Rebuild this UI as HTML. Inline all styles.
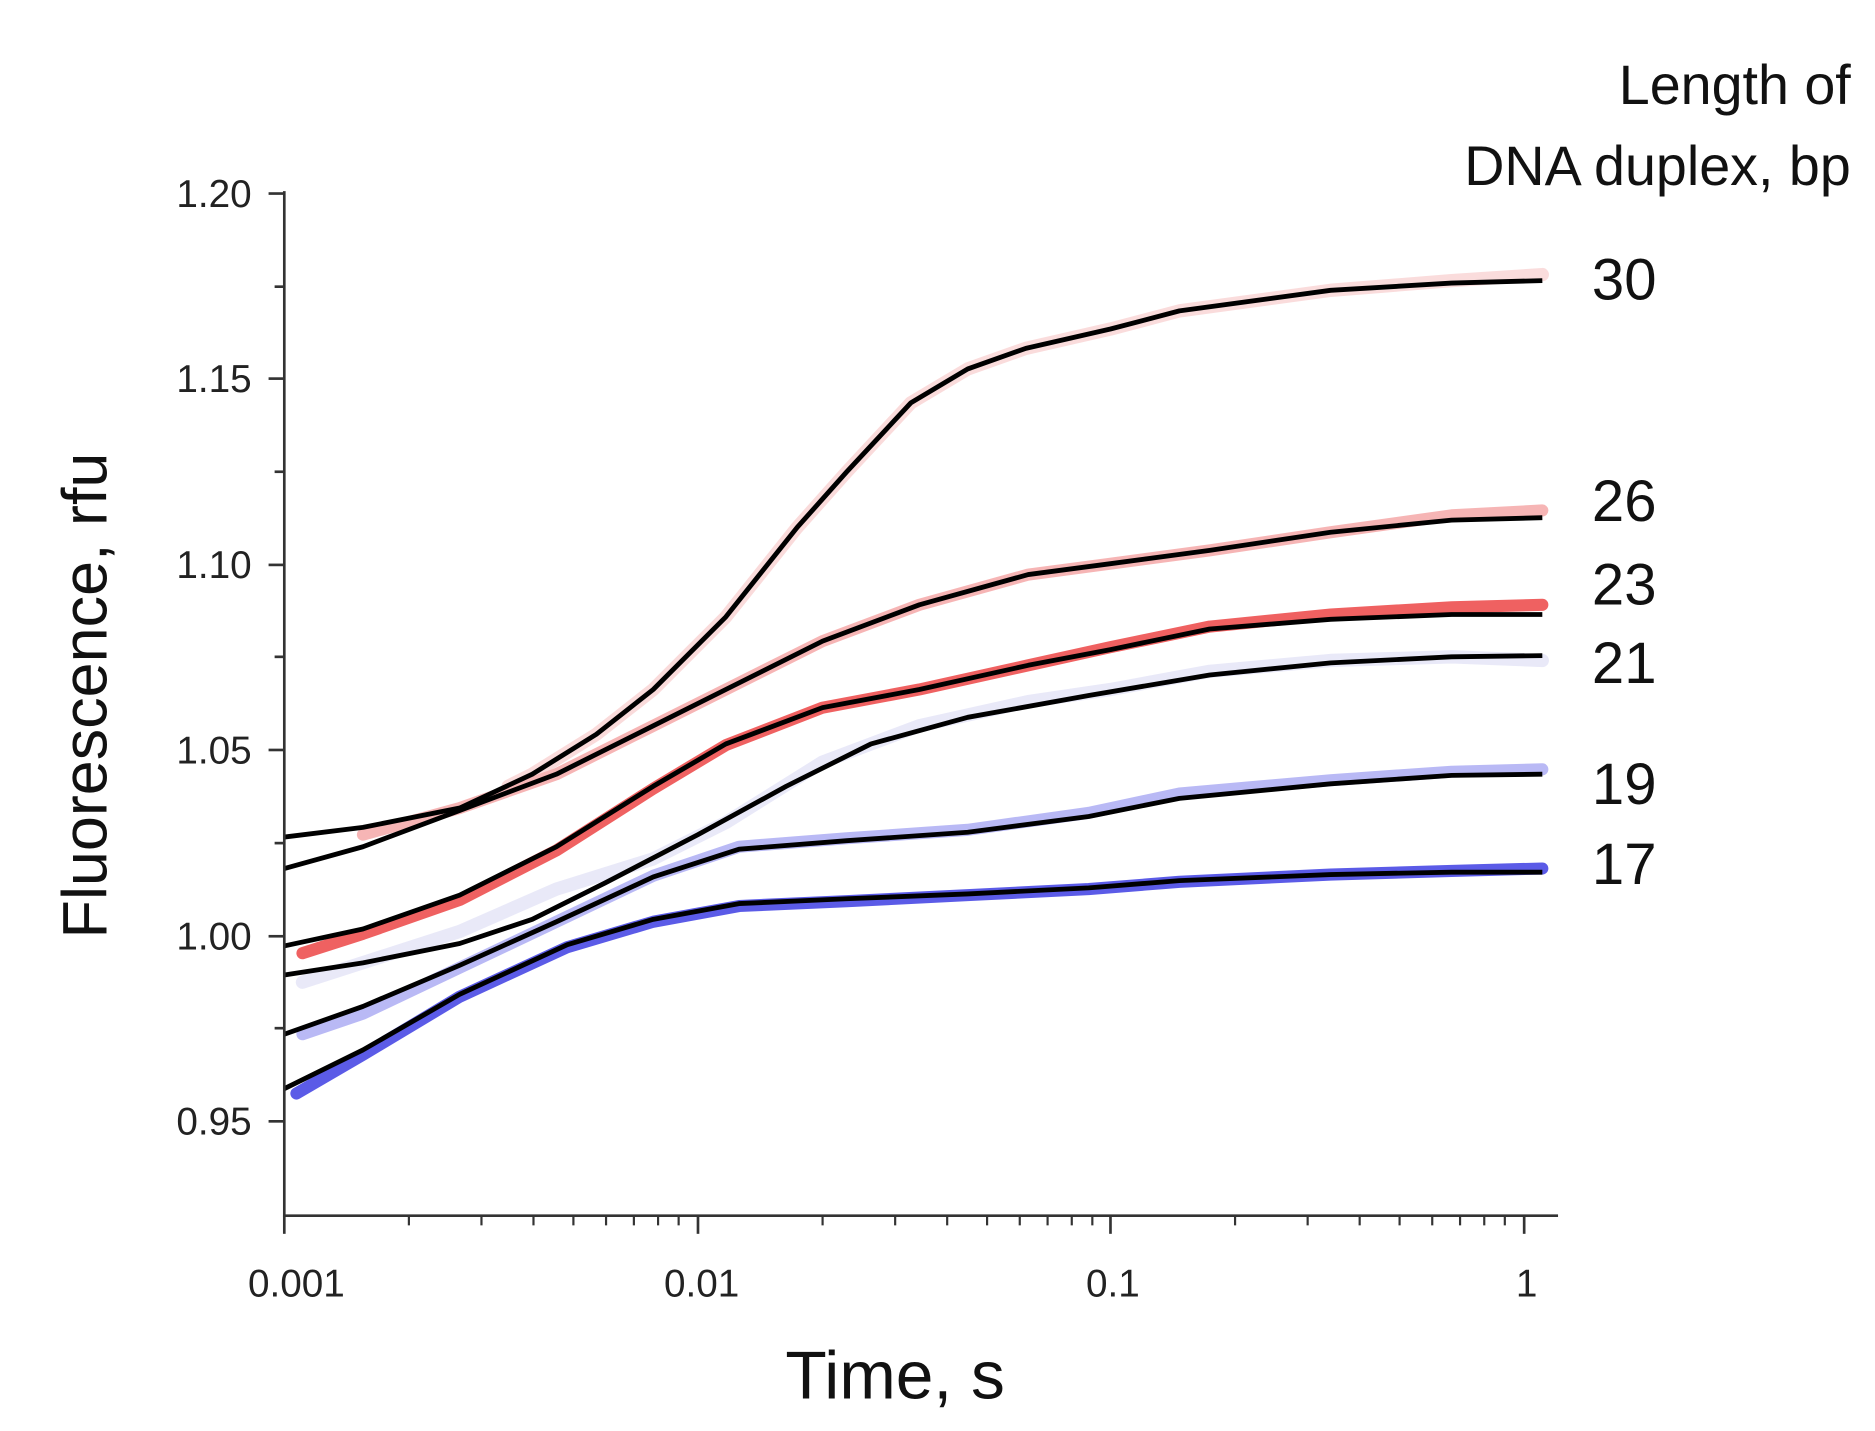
<!DOCTYPE html>
<html><head><meta charset="utf-8"><style>html,body{margin:0;padding:0;background:#fff}svg{display:block}</style></head>
<body>
<svg width="1875" height="1431" viewBox="0 0 1550 1183" xmlns="http://www.w3.org/2000/svg" font-family="Liberation Sans, sans-serif">
<g fill="none" stroke-linejoin="round" stroke-linecap="round" opacity="0.8">
<polyline stroke="#f9d3d3" stroke-width="11" points="420,650 440,640 493,607 540,570 600,510 659,436 700,390 753,333 800,305 848,288 918,272 975,257 1100,240 1200,232 1275,227"/>
<polyline stroke="#f5a3a3" stroke-width="10" points="300,690 380,668 460,640 540,600 600,570 680,530 760,500 850,475 918,466 1000,455 1100,440 1200,426 1275,422"/>
<polyline stroke="#ec3a3a" stroke-width="10" points="250,788 300,772 380,744 460,703 540,652 600,616 680,585 760,570 850,550 918,535 1000,518 1100,508 1200,502 1275,500"/>
<polyline stroke="#e4e4f7" stroke-width="11" points="250,812 380,770 460,735 540,710 600,680 680,630 760,600 850,580 918,570 1000,555 1100,546 1200,543 1275,546"/>
<polyline stroke="#a8a8f3" stroke-width="10" points="250,855 300,838 380,800 460,762 540,724 611,700 700,693 800,686 900,672 975,656 1100,645 1200,638 1275,636"/>
<polyline stroke="#3333e2" stroke-width="10" points="245,904 300,872 380,824 469,783 540,762 611,749 700,745 800,740 900,735 975,729 1100,723 1200,720 1275,718"/>
</g>
<g fill="none" stroke="#000" stroke-width="4" stroke-linejoin="round">
<polyline points="235,692 300,684 380,668 440,640 493,607 540,570 600,510 659,436 700,390 753,333 800,305 848,288 918,272 975,257 1100,240 1200,234 1275,232"/>
<polyline points="235,718 300,700 380,670 460,640 540,600 600,570 680,530 760,500 850,475 918,466 1000,455 1100,440 1200,430 1275,428"/>
<polyline points="235,782 300,768 380,740 460,700 540,650 600,615 680,585 760,570 850,550 918,537 1000,520 1100,512 1200,508 1275,508"/>
<polyline points="235,806 300,796 380,780 440,760 500,730 577,690 650,650 720,615 800,593 900,575 1000,558 1100,548 1200,543 1275,542"/>
<polyline points="235,855 300,832 380,798 460,762 540,725 611,702 700,695 800,688 900,675 975,660 1100,648 1200,641 1275,640"/>
<polyline points="235,900 300,868 380,822 469,781 540,760 611,747 700,743 800,739 900,734 975,728 1100,723 1200,721 1275,721"/>
</g>
<g stroke="#333" stroke-width="2.2">
<line x1="235" y1="158" x2="235" y2="1006"/>
<line x1="234" y1="1005" x2="1288" y2="1005"/>
<line x1="222" y1="160" x2="235" y2="160"/><line x1="227" y1="237" x2="235" y2="237"/>
<line x1="222" y1="313" x2="235" y2="313"/><line x1="227" y1="390" x2="235" y2="390"/>
<line x1="222" y1="467" x2="235" y2="467"/><line x1="227" y1="543" x2="235" y2="543"/>
<line x1="222" y1="620" x2="235" y2="620"/><line x1="227" y1="697" x2="235" y2="697"/>
<line x1="222" y1="774" x2="235" y2="774"/><line x1="227" y1="850" x2="235" y2="850"/>
<line x1="222" y1="927" x2="235" y2="927"/>
<line x1="235" y1="1005" x2="235" y2="1020"/><line x1="577" y1="1005" x2="577" y2="1020"/>
<line x1="918" y1="1005" x2="918" y2="1020"/><line x1="1260" y1="1005" x2="1260" y2="1020"/>
</g>
<g stroke="#333" stroke-width="1.8">
<line x1="338" y1="1005" x2="338" y2="1013"/><line x1="398" y1="1005" x2="398" y2="1013"/><line x1="441" y1="1005" x2="441" y2="1013"/><line x1="474" y1="1005" x2="474" y2="1013"/><line x1="501" y1="1005" x2="501" y2="1013"/><line x1="524" y1="1005" x2="524" y2="1013"/><line x1="544" y1="1005" x2="544" y2="1013"/><line x1="561" y1="1005" x2="561" y2="1013"/>
<line x1="680" y1="1005" x2="680" y2="1013"/><line x1="740" y1="1005" x2="740" y2="1013"/><line x1="783" y1="1005" x2="783" y2="1013"/><line x1="816" y1="1005" x2="816" y2="1013"/><line x1="843" y1="1005" x2="843" y2="1013"/><line x1="866" y1="1005" x2="866" y2="1013"/><line x1="886" y1="1005" x2="886" y2="1013"/><line x1="903" y1="1005" x2="903" y2="1013"/>
<line x1="1021" y1="1005" x2="1021" y2="1013"/><line x1="1081" y1="1005" x2="1081" y2="1013"/><line x1="1124" y1="1005" x2="1124" y2="1013"/><line x1="1157" y1="1005" x2="1157" y2="1013"/><line x1="1184" y1="1005" x2="1184" y2="1013"/><line x1="1207" y1="1005" x2="1207" y2="1013"/><line x1="1227" y1="1005" x2="1227" y2="1013"/><line x1="1244" y1="1005" x2="1244" y2="1013"/>
</g>
<g font-size="32" fill="#222" text-anchor="end">
<text x="208" y="171">1.20</text><text x="208" y="324">1.15</text><text x="208" y="478">1.10</text>
<text x="208" y="631">1.05</text><text x="208" y="785">1.00</text><text x="208" y="938">0.95</text>
</g>
<g font-size="32" fill="#222" text-anchor="middle">
<text x="245" y="1072">0.001</text><text x="580" y="1072">0.01</text><text x="920" y="1072">0.1</text><text x="1262" y="1072">1</text>
</g>
<text x="740" y="1156" font-size="56" text-anchor="middle" fill="#111">Time, s</text>
<text transform="translate(88,575) rotate(-90)" font-size="52" text-anchor="middle" fill="#111">Fluorescence, rfu</text>
<g font-size="46" fill="#111" text-anchor="end">
<text x="1530" y="86">Length of</text>
<text x="1530" y="153">DNA duplex,  bp</text>
</g>
<g font-size="48" fill="#111">
<text x="1316" y="235" dominant-baseline="middle">30</text>
<text x="1316" y="418" dominant-baseline="middle">26</text>
<text x="1316" y="487" dominant-baseline="middle">23</text>
<text x="1316" y="552" dominant-baseline="middle">21</text>
<text x="1316" y="652" dominant-baseline="middle">19</text>
<text x="1316" y="718" dominant-baseline="middle">17</text>
</g>
</svg>
</body></html>
